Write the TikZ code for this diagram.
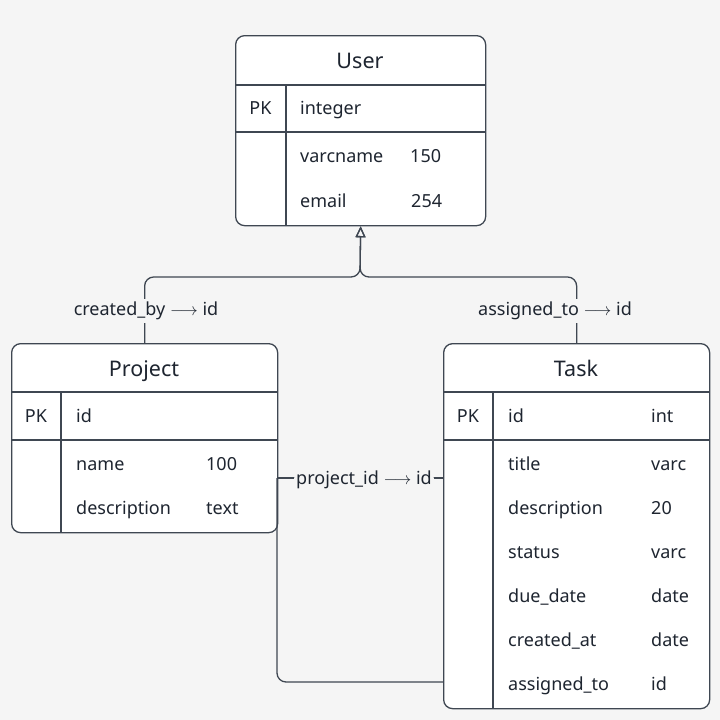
\documentclass[tikz,border=0pt]{standalone}
\usepackage{fontspec}
\setmainfont{Noto Sans}
\usetikzlibrary{arrows.meta}
\definecolor{bg}{HTML}{F5F5F5}
\definecolor{ln}{HTML}{3F4752}
\definecolor{tx}{HTML}{1E2530}
\begin{document}
\begin{tikzpicture}[x=1pt,y=-1pt,
 box/.style={draw=ln, line width=1.3pt, fill=white, rounded corners=9pt, anchor=north west, inner sep=0pt, rectangle},
 ttl/.style={font=\fontsize{21.5}{24}\selectfont, text=tx, anchor=base, inner sep=0pt},
 fld/.style={font=\fontsize{18}{20}\selectfont, text=tx, anchor=base west, inner sep=0pt},
 pk/.style={font=\fontsize{18}{20}\selectfont, text=tx, anchor=base, inner sep=0pt},
 sepline/.style={draw=ln, line width=1.3pt},
 conn/.style={draw=ln, line width=1.3pt, rounded corners=9pt},
 lbl/.style={font=\fontsize{18}{20}\selectfont, text=tx, fill=bg, inner sep=3pt},
 tip/.style={-{Triangle[open,length=11pt,width=10pt]}}
]
\fill[bg] (0,0) rectangle (720,720);
\useasboundingbox (0,0) rectangle (720,720);

% boxes
\node[box, minimum width=250pt, minimum height=190pt] (user) at (235,35) {};
\node[box, minimum width=266pt, minimum height=189pt] (project) at (11,343) {};
\node[box, minimum width=266pt, minimum height=365pt] (task) at (443,343) {};

% connectors
\coordinate (fork) at (360,277);
\draw[conn,tip] (project.north) |- (fork) -- (user.south);
\draw[conn,tip] (task.north) |- (fork) -- (user.south);
\node[lbl] (cb) at (146,311) {created\_by $\longrightarrow$ id};
\node[lbl] (at) at (555,311) {assigned\_to $\longrightarrow$ id};

\coordinate (pe) at (277,478);
\coordinate (tw) at (443,478);
\draw[conn] (pe) -- node[lbl, xshift=4pt, yshift=-2pt, inner sep=2pt] (pid) {project\_id $\longrightarrow$ id} (tw);
\coordinate (ta) at (443,682);
\draw[conn] (pe) |- (ta);

% User table
\draw[sepline] (235,85) -- (485,85);
\draw[sepline] (235,132) -- (485,132);
\draw[sepline] (286,85) -- (286,225);
\node[ttl] (ut) at (360,68) {User};
\node[pk] (upk) at (260.5,114) {PK};
\node[fld] (u1) at (300,114) {integer};
\node[fld] (u2) at (300,162) {varcname};
\node[fld] (u2v) at (410,162) {150};
\node[fld] (u3) at (300,207) {email};
\node[fld] (u3v) at (411,207) {254};

% Project table
\draw[sepline] (11,392) -- (277,392);
\draw[sepline] (11,440) -- (277,440);
\draw[sepline] (61,392) -- (61,532);
\node[ttl] (pt) at (144,376) {Project};
\node[pk] (ppk) at (36,422) {PK};
\node[fld] (p1) at (76,422) {id};
\node[fld] (p2) at (76,470) {name};
\node[fld] (p2v) at (206,470) {100};
\node[fld] (p3) at (76,514) {description};
\node[fld] (p3v) at (206,514) {text};

% Task table
\draw[sepline] (443,392) -- (709,392);
\draw[sepline] (443,440) -- (709,440);
\draw[sepline] (493,392) -- (493,708);
\node[ttl] (tt) at (576,376) {Task};
\node[pk] (tpk) at (468,422) {PK};
\node[fld] (t1) at (508,422) {id};
\node[fld] (t1v) at (651,422) {int};
\node[fld] (t2) at (508,470) {title};
\node[fld] (t2v) at (651,470) {varc};
\node[fld] (t3) at (508,514) {description};
\node[fld] (t3v) at (651,514) {20};
\node[fld] (t4) at (508,558) {status};
\node[fld] (t4v) at (651,558) {varc};
\node[fld] (t5) at (508,602) {due\_date};
\node[fld] (t5v) at (651,602) {date};
\node[fld] (t6) at (508,646) {created\_at};
\node[fld] (t6v) at (651,646) {date};
\node[fld] (t7) at (508,690) {assigned\_to};
\node[fld] (t7v) at (651,690) {id};
\end{tikzpicture}
\end{document}
